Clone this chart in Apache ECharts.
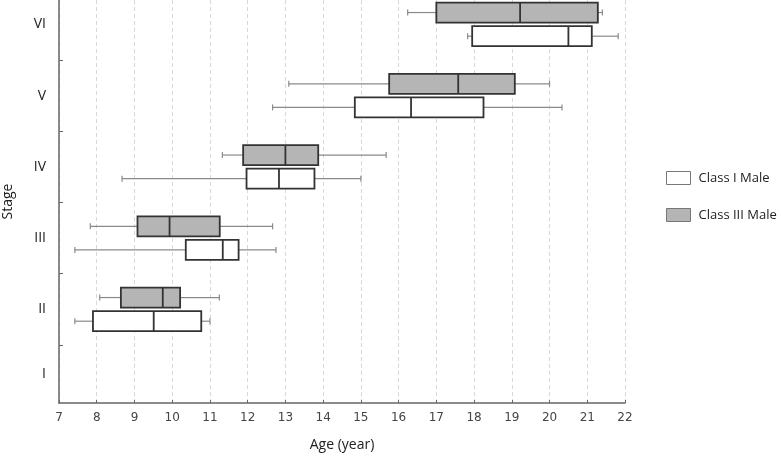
<!DOCTYPE html>
<html>
<head>
<meta charset="utf-8">
<script src="https://cdn.jsdelivr.net/npm/echarts@6/dist/echarts.min.js"></script>
<style>
  html, body { margin: 0; padding: 0; background: #fff; }
  #chart { width: 781px; height: 458px; }
</style>
</head>
<body>
<div id="chart"></div>
<script>
// stages on the y axis, bottom to top
var stages = ['I', 'II', 'III', 'IV', 'V', 'VI'];
// [low whisker, Q1, median, Q3, high whisker] per stage, null = no data
var classIMale = [
  null,
  [7.42, 7.90, 9.51, 10.77, 11.00],
  [7.42, 10.36, 11.34, 11.76, 12.75],
  [8.67, 11.97, 12.83, 13.77, 15.00],
  [12.66, 14.84, 16.33, 18.25, 20.33],
  [17.83, 17.95, 20.50, 21.12, 21.82]
];
var classIIIMale = [
  null,
  [8.08, 8.64, 9.75, 10.21, 11.25],
  [7.83, 9.08, 9.93, 11.26, 12.66],
  [11.33, 11.88, 13.00, 13.87, 15.67],
  [13.09, 15.75, 17.58, 19.08, 20.00],
  [16.24, 17.00, 19.22, 21.28, 21.40]
];
var ageTicks = [7, 8, 9, 10, 11, 12, 13, 14, 15, 16, 17, 18, 19, 20, 21, 22];

var yMin = 0.686, yMax = 6.342;

function toData(list){
  var out = [];
  for(var i=0;i<list.length;i++){
    if(list[i]){
      out.push([i + 1].concat(list[i]));
    }
  }
  return out;
}

function makeRender(offset, fill){
  return function(params, api){
    var yv = api.value(0) + offset;
    var lo = api.coord([api.value(1), yv]);
    var q1 = api.coord([api.value(2), yv]);
    var md = api.coord([api.value(3), yv]);
    var q3 = api.coord([api.value(4), yv]);
    var hi = api.coord([api.value(5), yv]);
    var h = 10;
    var cy = lo[1];
    var whisker = { stroke: '#8a8a8a', lineWidth: 1.2 };
    var box = { stroke: '#333', lineWidth: 1.8 };
    return {
      type: 'group',
      children: [
        { type: 'line', shape: { x1: lo[0], y1: cy, x2: q1[0], y2: cy }, style: whisker },
        { type: 'line', shape: { x1: q3[0], y1: cy, x2: hi[0], y2: cy }, style: whisker },
        { type: 'line', shape: { x1: lo[0], y1: cy - 3, x2: lo[0], y2: cy + 3 }, style: whisker },
        { type: 'line', shape: { x1: hi[0], y1: cy - 3, x2: hi[0], y2: cy + 3 }, style: whisker },
        { type: 'rect', shape: { x: q1[0], y: cy - h, width: q3[0] - q1[0], height: 2 * h },
          style: { fill: fill, stroke: box.stroke, lineWidth: box.lineWidth } },
        { type: 'line', shape: { x1: md[0], y1: cy - h, x2: md[0], y2: cy + h }, style: box }
      ]
    };
  };
}

var myChart = echarts.init(document.getElementById('chart'));

var option = {
  animation: false,
  backgroundColor: '#fff',
  grid: { left: 59, right: 156, top: 0, bottom: 55, outerBoundsMode: 'none', containLabel: false },
  legend: {
    orient: 'vertical',
    left: 661,
    top: 166,
    itemWidth: 24,
    itemHeight: 13,
    itemGap: 23,
    textStyle: { fontFamily: 'Open Sans', fontSize: 13, color: '#222', padding: [0, 0, 0, 3] },
    data: [
      { name: 'Class I Male', icon: 'rect', itemStyle: { color: '#fff', borderColor: '#777', borderWidth: 1 } },
      { name: 'Class III Male', icon: 'rect', itemStyle: { color: '#b5b5b5', borderColor: '#777', borderWidth: 1 } }
    ]
  },
  xAxis: {
    type: 'value',
    min: 7,
    max: 22,
    interval: 1,
    name: 'Age (year)',
    nameLocation: 'middle',
    nameGap: 35,
    nameTextStyle: { fontFamily: 'Open Sans', fontSize: 14, color: '#222' },
    axisLine: { lineStyle: { color: '#666', width: 1.5 } },
    axisTick: { show: true, inside: true, length: 3, lineStyle: { color: '#666' } },
    axisLabel: { fontFamily: 'DejaVu Sans', fontSize: 12, color: '#444', margin: 9,
      customValues: ageTicks },
    splitLine: { show: true, lineStyle: { color: '#d8d8d8', type: [4, 3], width: 1 } }
  },
  yAxis: {
    type: 'value',
    min: yMin,
    max: yMax,
    name: 'Stage',
    nameLocation: 'middle',
    nameGap: 44,
    nameTextStyle: { fontFamily: 'Open Sans', fontSize: 14, color: '#222' },
    axisLine: { show: true, lineStyle: { color: '#666', width: 1.5 } },
    axisTick: { show: true, inside: true, length: 4, lineStyle: { color: '#666' },
      customValues: [1.5, 2.5, 3.5, 4.5, 5.5] },
    axisLabel: {
      fontFamily: 'Open Sans', fontSize: 14, color: '#222', margin: 13,
      customValues: [(yMin + 1.5) / 2, 2, 3, 4, 5, 6],
      formatter: function(v){ return stages[Math.round(v) - 1]; }
    },
    splitLine: { show: false }
  },
  series: [
    {
      name: 'Class I Male',
      type: 'custom',
      renderItem: makeRender(-0.166, '#fff'),
      encode: { x: [1, 2, 3, 4, 5], y: 0 },
      itemStyle: { color: '#fff' },
      data: toData(classIMale)
    },
    {
      name: 'Class III Male',
      type: 'custom',
      renderItem: makeRender(0.166, '#b5b5b5'),
      encode: { x: [1, 2, 3, 4, 5], y: 0 },
      itemStyle: { color: '#b5b5b5' },
      data: toData(classIIIMale)
    }
  ]
};

myChart.setOption(option);
</script>
</body>
</html>
